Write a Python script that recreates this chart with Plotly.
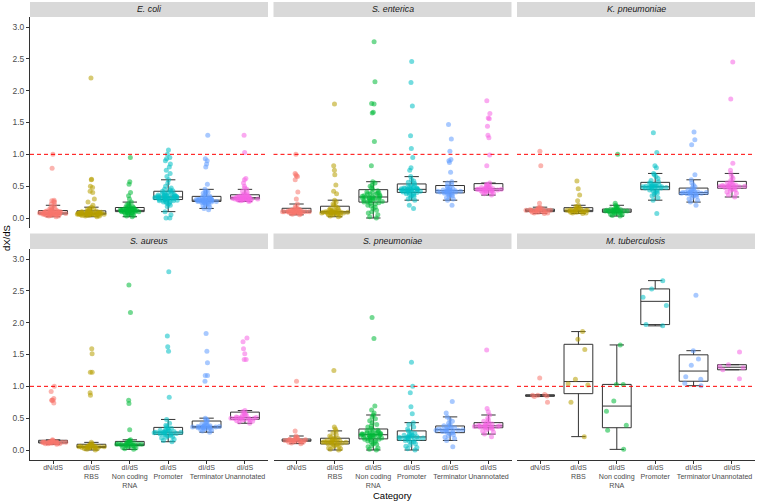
import plotly.graph_objects as go

# ---------------- data ----------------
categories = ["dN/dS", "dI/dS<br>RBS", "dI/dS<br>Non coding<br>RNA",
              "dI/dS<br>Promoter", "dI/dS<br>Terminator", "dI/dS<br>Unannotated"]
species = ["E. coli", "S. enterica", "K. pneumoniae",
           "S. aureus", "S. pneumoniae", "M. tuberculosis"]
colors = ["#F8766D", "#B79F00", "#00BA38", "#00BFC4", "#619CFF", "#F564E3"]
y_ticks = [0.0, 0.5, 1.0, 1.5, 2.0, 2.5, 3.0]
y_ticklabels = ["0.0", "0.5", "1.0", "1.5", "2.0", "2.5", "3.0"]
neutral_line = 1.0

# E. coli
ec_dn = [0.02,0.03,0.03,0.04,0.04,0.05,0.05,0.05,0.05,0.06,0.06,0.06,0.06,0.06,0.06,0.07,0.07,0.07,0.07,0.07,0.07,0.07,0.08,0.08,0.08,0.08,0.08,0.08,0.08,0.08,0.09,0.09,0.09,0.09,0.09,0.09,0.10,0.10,0.10,0.10,0.10,0.11,0.11,0.11,0.12,0.12,0.13,0.14,0.15,0.16,0.18,0.20,0.22,0.25,0.26,0.27,0.28,0.78,1.00]
ec_rbs = [0.02,0.03,0.03,0.04,0.04,0.04,0.05,0.05,0.05,0.05,0.05,0.06,0.06,0.06,0.06,0.06,0.06,0.06,0.06,0.06,0.07,0.07,0.07,0.07,0.07,0.07,0.07,0.07,0.07,0.07,0.07,0.08,0.08,0.08,0.08,0.08,0.08,0.09,0.09,0.09,0.09,0.10,0.10,0.10,0.11,0.11,0.12,0.13,0.14,0.15,0.17,0.20,0.25,0.30,0.40,0.42,0.48,0.50,0.60,0.61,2.20]
ec_nc = [0.02,0.03,0.04,0.05,0.06,0.07,0.07,0.08,0.08,0.09,0.09,0.09,0.10,0.10,0.10,0.10,0.11,0.11,0.11,0.11,0.11,0.12,0.12,0.12,0.12,0.12,0.12,0.13,0.13,0.13,0.13,0.13,0.14,0.14,0.14,0.15,0.15,0.16,0.16,0.17,0.18,0.19,0.20,0.21,0.23,0.25,0.30,0.35,0.40,0.53,0.57,0.95]
ec_pro = [0.00,0.00,0.05,0.10,0.18,0.20,0.22,0.23,0.24,0.25,0.26,0.26,0.27,0.27,0.28,0.28,0.29,0.29,0.29,0.30,0.30,0.30,0.31,0.31,0.31,0.31,0.32,0.32,0.32,0.32,0.33,0.33,0.33,0.33,0.33,0.33,0.34,0.34,0.34,0.34,0.35,0.35,0.35,0.36,0.36,0.37,0.37,0.38,0.38,0.39,0.40,0.41,0.42,0.43,0.44,0.45,0.47,0.50,0.55,0.60,0.65,0.70,0.75,0.80,0.85,0.90,0.93,0.95,1.00,1.07]
ec_ter = [0.13,0.15,0.17,0.19,0.20,0.21,0.22,0.23,0.24,0.24,0.25,0.25,0.25,0.26,0.26,0.26,0.26,0.27,0.27,0.27,0.27,0.27,0.28,0.28,0.28,0.28,0.28,0.28,0.29,0.29,0.29,0.29,0.30,0.30,0.30,0.31,0.31,0.32,0.32,0.33,0.34,0.35,0.37,0.39,0.40,0.41,0.42,0.45,0.53,0.80,0.85,0.90,0.93,1.30]
ec_una = [0.26,0.27,0.27,0.28,0.28,0.28,0.29,0.29,0.29,0.29,0.30,0.30,0.30,0.30,0.30,0.30,0.31,0.31,0.31,0.31,0.31,0.31,0.31,0.32,0.32,0.32,0.32,0.32,0.33,0.33,0.33,0.34,0.34,0.35,0.35,0.36,0.37,0.38,0.40,0.42,0.45,0.47,0.50,0.55,0.60,0.62,1.03,1.30]

# S. enterica
se_dn = [0.05,0.06,0.07,0.07,0.08,0.08,0.08,0.09,0.09,0.09,0.09,0.09,0.10,0.10,0.10,0.10,0.10,0.10,0.10,0.10,0.10,0.11,0.11,0.11,0.11,0.11,0.11,0.12,0.12,0.12,0.13,0.13,0.14,0.15,0.16,0.18,0.22,0.30,0.41,0.60,0.65,0.66,0.68,0.70,1.00]
se_rbs = [0.02,0.03,0.04,0.05,0.05,0.06,0.06,0.07,0.07,0.07,0.08,0.08,0.08,0.08,0.09,0.09,0.09,0.09,0.09,0.09,0.09,0.10,0.10,0.10,0.10,0.11,0.11,0.12,0.12,0.13,0.14,0.15,0.16,0.18,0.20,0.22,0.25,0.28,0.38,0.42,0.52,0.68,0.75,0.82,1.79]
se_nc = [0.00,0.02,0.05,0.08,0.10,0.12,0.15,0.17,0.19,0.20,0.22,0.23,0.24,0.25,0.25,0.26,0.27,0.28,0.28,0.29,0.30,0.30,0.31,0.31,0.32,0.32,0.32,0.33,0.33,0.34,0.34,0.35,0.36,0.37,0.38,0.38,0.39,0.40,0.40,0.41,0.43,0.45,0.47,0.50,0.52,0.55,0.57,0.82,1.20,1.65,1.66,1.79,1.80,2.14,2.77]
se_pro = [0.15,0.20,0.28,0.30,0.32,0.34,0.35,0.36,0.37,0.38,0.39,0.40,0.40,0.41,0.41,0.42,0.42,0.43,0.43,0.43,0.44,0.44,0.44,0.44,0.45,0.45,0.45,0.45,0.46,0.46,0.46,0.47,0.47,0.48,0.49,0.50,0.51,0.52,0.54,0.56,0.58,0.60,0.65,0.75,0.79,0.95,1.09,1.29,1.76,2.13,2.46]
se_ter = [0.20,0.28,0.30,0.32,0.34,0.35,0.36,0.37,0.38,0.39,0.40,0.40,0.41,0.41,0.41,0.42,0.42,0.42,0.42,0.43,0.43,0.43,0.43,0.44,0.44,0.45,0.46,0.47,0.48,0.50,0.52,0.55,0.57,0.72,0.87,0.90,0.92,1.05,1.24,1.47]
se_una = [0.36,0.38,0.39,0.40,0.41,0.42,0.42,0.43,0.43,0.43,0.44,0.44,0.44,0.45,0.45,0.45,0.45,0.45,0.46,0.46,0.46,0.47,0.47,0.48,0.48,0.49,0.50,0.51,0.52,0.53,0.55,0.82,0.99,1.26,1.30,1.44,1.56,1.57,1.64,1.84]

# K. pneumoniae
kp_dn = [0.07,0.08,0.08,0.09,0.09,0.10,0.10,0.10,0.11,0.11,0.11,0.11,0.12,0.12,0.12,0.12,0.12,0.13,0.13,0.13,0.14,0.14,0.15,0.16,0.17,0.23,0.82,1.05]
kp_rbs = [0.07,0.08,0.08,0.09,0.09,0.10,0.10,0.10,0.11,0.11,0.11,0.11,0.12,0.12,0.12,0.12,0.13,0.13,0.14,0.14,0.15,0.16,0.17,0.18,0.20,0.27,0.36,0.46,0.58]
kp_nc = [0.03,0.04,0.05,0.06,0.07,0.08,0.08,0.09,0.09,0.10,0.10,0.10,0.11,0.11,0.11,0.11,0.12,0.12,0.12,0.12,0.13,0.13,0.14,0.14,0.15,0.16,0.17,0.18,0.20,0.23,1.00]
kp_pro = [0.07,0.28,0.32,0.35,0.37,0.39,0.40,0.42,0.43,0.44,0.45,0.46,0.47,0.47,0.48,0.48,0.48,0.49,0.49,0.49,0.49,0.50,0.50,0.50,0.51,0.51,0.52,0.53,0.54,0.55,0.57,0.59,0.62,0.65,0.68,0.70,0.79,0.82,1.03,1.34]
kp_ter = [0.20,0.25,0.28,0.30,0.32,0.34,0.35,0.36,0.37,0.38,0.38,0.39,0.39,0.39,0.40,0.40,0.40,0.40,0.41,0.41,0.41,0.42,0.43,0.44,0.45,0.47,0.49,0.52,0.55,0.60,0.68,1.15,1.23,1.35]
kp_una = [0.33,0.36,0.39,0.41,0.43,0.44,0.45,0.46,0.47,0.48,0.49,0.49,0.49,0.50,0.50,0.50,0.50,0.51,0.51,0.51,0.52,0.53,0.54,0.55,0.57,0.59,0.62,0.65,0.70,0.75,0.86,1.87,2.45]

# S. aureus
sa_dn = [0.09,0.10,0.10,0.10,0.11,0.11,0.11,0.11,0.11,0.12,0.12,0.12,0.12,0.12,0.12,0.12,0.12,0.12,0.13,0.13,0.13,0.13,0.14,0.14,0.15,0.16,0.74,0.78,0.78,0.78,0.81,0.92,1.00]
sa_rbs = [0.00,0.01,0.02,0.02,0.03,0.03,0.04,0.04,0.04,0.04,0.05,0.05,0.05,0.05,0.05,0.05,0.05,0.06,0.06,0.06,0.06,0.07,0.07,0.08,0.08,0.09,0.10,0.12,0.86,0.90,1.22,1.22,1.51,1.59]
sa_nc = [0.01,0.02,0.03,0.04,0.05,0.06,0.06,0.07,0.07,0.08,0.08,0.08,0.09,0.09,0.09,0.09,0.09,0.10,0.10,0.10,0.11,0.11,0.12,0.13,0.14,0.15,0.16,0.32,0.73,0.78,2.16,2.59]
sa_pro = [0.13,0.15,0.17,0.19,0.20,0.21,0.22,0.23,0.24,0.25,0.25,0.26,0.26,0.27,0.27,0.28,0.28,0.28,0.28,0.29,0.29,0.30,0.30,0.31,0.32,0.33,0.34,0.35,0.37,0.39,0.42,0.48,0.83,1.55,1.62,1.79,2.80]
sa_ter = [0.28,0.30,0.31,0.32,0.33,0.34,0.34,0.35,0.35,0.35,0.36,0.36,0.36,0.36,0.36,0.37,0.37,0.37,0.37,0.38,0.38,0.39,0.40,0.41,0.42,0.44,0.46,0.48,0.50,1.08,1.17,1.17,1.37,1.55,1.83]
sa_una = [0.42,0.44,0.45,0.46,0.47,0.47,0.48,0.48,0.49,0.49,0.50,0.50,0.50,0.50,0.51,0.51,0.52,0.52,0.53,0.54,0.55,0.56,0.58,0.60,0.62,1.42,1.42,1.51,1.59,1.70,1.76]

# S. pneumoniae
sp_dn = [0.10,0.11,0.12,0.12,0.13,0.13,0.14,0.14,0.14,0.15,0.15,0.15,0.15,0.15,0.16,0.16,0.16,0.17,0.17,0.18,0.19,0.20,0.22,0.30,1.08]
sp_rbs = [0.00,0.01,0.02,0.03,0.05,0.06,0.07,0.08,0.09,0.10,0.10,0.11,0.11,0.12,0.12,0.12,0.13,0.13,0.13,0.13,0.14,0.14,0.15,0.15,0.16,0.17,0.18,0.19,0.20,0.22,0.24,0.27,0.30,0.33,0.36,1.25]
sp_nc = [0.00,0.01,0.03,0.05,0.07,0.09,0.10,0.12,0.13,0.14,0.15,0.16,0.17,0.17,0.18,0.19,0.20,0.20,0.21,0.21,0.22,0.22,0.22,0.23,0.23,0.23,0.24,0.24,0.24,0.25,0.25,0.25,0.26,0.26,0.27,0.27,0.28,0.28,0.29,0.30,0.31,0.32,0.34,0.36,0.38,0.40,0.43,0.46,0.49,0.52,0.55,0.58,0.63,0.69,1.75,2.08]
sp_pro = [0.00,0.02,0.04,0.06,0.08,0.10,0.12,0.13,0.14,0.15,0.16,0.17,0.18,0.18,0.19,0.19,0.20,0.20,0.20,0.21,0.21,0.22,0.22,0.23,0.24,0.25,0.26,0.28,0.30,0.33,0.36,0.40,0.43,0.57,0.68,0.90,1.00,1.38]
sp_ter = [0.05,0.15,0.18,0.20,0.22,0.24,0.26,0.27,0.28,0.29,0.30,0.30,0.31,0.31,0.32,0.32,0.32,0.33,0.33,0.34,0.35,0.36,0.37,0.38,0.40,0.42,0.45,0.48,0.52,0.58,0.76]
sp_una = [0.21,0.25,0.28,0.30,0.32,0.33,0.34,0.35,0.35,0.36,0.36,0.37,0.37,0.37,0.38,0.38,0.38,0.39,0.39,0.40,0.41,0.42,0.43,0.45,0.47,0.50,0.55,0.60,0.65,1.57]

# M. tuberculosis
mt_dn = [0.75,0.84,0.85,0.86,0.86,0.87,1.13]
mt_rbs = [0.21,0.75,1.02,1.04,1.11,1.58,1.74,1.86]
mt_nc = [0.01,0.31,0.39,0.61,0.77,1.03,1.03,1.65]
mt_pro = [1.95,1.97,2.27,2.40,2.53,2.66]
mt_ter = [1.01,1.05,1.11,1.15,1.33,1.43,1.56,2.43]
mt_una = [1.12,1.26,1.29,1.31,1.34,1.54]

panel_data = [
    [ec_dn, ec_rbs, ec_nc, ec_pro, ec_ter, ec_una],
    [se_dn, se_rbs, se_nc, se_pro, se_ter, se_una],
    [kp_dn, kp_rbs, kp_nc, kp_pro, kp_ter, kp_una],
    [sa_dn, sa_rbs, sa_nc, sa_pro, sa_ter, sa_una],
    [sp_dn, sp_rbs, sp_nc, sp_pro, sp_ter, sp_una],
    [mt_dn, mt_rbs, mt_nc, mt_pro, mt_ter, mt_una],
]

# ---------------- layout geometry ----------------
W, H = 757, 502
ML, MR, MT, MB = 30, 2, 2, 42
PW, PH = W - ML - MR, H - MT - MB
col_px = [(0, 238), (243.5, 481.5), (487, 725)]
row_panel_px = [(15, 226), (247, 458)]
row_strip_px = [(0, 15), (231.5, 247)]

def fx(px):
    return px / PW

def fy(px):
    return 1 - px / PH

FONT = "Liberation Sans, Arial, sans-serif"
fig = go.Figure()
layout = dict(
    width=W, height=H,
    margin=dict(l=ML, r=MR, t=MT, b=MB),
    paper_bgcolor="white", plot_bgcolor="white",
    showlegend=False, boxmode="overlay",
    font=dict(family=FONT, color="#4D4D4D"),
)
shapes = []
annotations = []

for i, sp in enumerate(species):
    r, c = divmod(i, 3)
    ax = "" if i == 0 else str(i + 1)
    xa, ya = "x" + ax, "y" + ax
    for j, cat in enumerate(categories):
        vals = panel_data[i][j]
        fig.add_trace(go.Box(
            x=[cat] * len(vals), y=vals,
            xaxis=xa, yaxis=ya,
            width=0.75,
            boxpoints="all", jitter=1, pointpos=0,
            line=dict(color="#333333", width=1),
            fillcolor="white",
            marker=dict(color=colors[j], size=5, opacity=0.55, line=dict(width=0)),
            hoverinfo="y",
        ))
    x0, x1 = col_px[c]
    y0, y1 = row_panel_px[r]
    bottom = (r == 1)
    left = (c == 0)
    layout["xaxis" + ax] = dict(
        domain=[fx(x0), fx(x1)], anchor=ya,
        type="category", categoryorder="array", categoryarray=categories,
        range=[-0.6, 5.6],
        showgrid=False, zeroline=False,
        showline=bottom, linecolor="#333333", linewidth=1,
        ticks="outside" if bottom else "", ticklen=3, tickcolor="#333333",
        showticklabels=bottom, tickangle=0, ticklabelstandoff=-3,
        tickfont=dict(size=7.1, color="#4D4D4D", family=FONT),
    )
    layout["yaxis" + ax] = dict(
        domain=[fy(y1), fy(y0)], anchor=xa,
        range=[-0.157, 3.157],
        tickmode="array", tickvals=y_ticks, ticktext=y_ticklabels,
        showgrid=False, zeroline=False,
        showline=left, linecolor="#333333", linewidth=1,
        ticks="outside" if left else "", ticklen=3, tickcolor="#333333",
        showticklabels=left,
        tickfont=dict(size=8.5, color="#4D4D4D", family=FONT),
    )
    shapes.append(dict(type="line", xref=xa + " domain", yref=ya,
                       x0=0, x1=1, y0=neutral_line, y1=neutral_line,
                       line=dict(color="#FF0000", width=1, dash="4px,3px")))
    s0, s1 = row_strip_px[r]
    shapes.append(dict(type="rect", xref="paper", yref="paper",
                       x0=fx(x0), x1=fx(x1), y0=fy(s1), y1=fy(s0),
                       fillcolor="#D9D9D9", line=dict(width=0), layer="below"))
    annotations.append(dict(text="<i>%s</i>" % sp, xref="paper", yref="paper",
                            x=fx((x0 + x1) / 2), y=fy((s0 + s1) / 2),
                            xanchor="center", yanchor="middle", showarrow=False,
                            font=dict(size=8.8, color="#1A1A1A", family=FONT)))

annotations.append(dict(text="Category", xref="paper", yref="paper",
                        x=0.5, y=fy(495.5 - MT), xanchor="center", yanchor="middle",
                        showarrow=False, font=dict(size=9.5, color="#000000", family=FONT)))
annotations.append(dict(text="dX/dS", xref="paper", yref="paper",
                        x=fx(6 - ML), y=fy(238 - MT), xanchor="center", yanchor="middle",
                        textangle=-90, showarrow=False,
                        font=dict(size=9.5, color="#000000", family=FONT)))

layout["shapes"] = shapes
layout["annotations"] = annotations
fig.update_layout(**layout)
fig.write_html("out.html", config={"displayModeBar": False},
               post_script="document.body.style.margin='0px';")
